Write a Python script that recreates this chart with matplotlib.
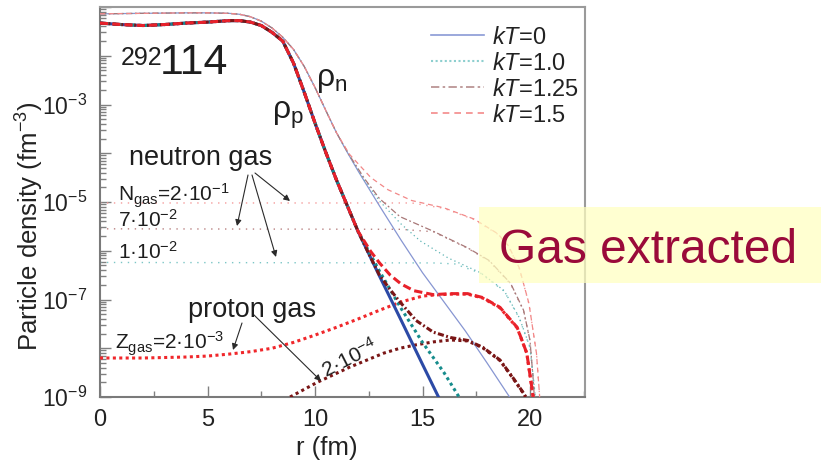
import matplotlib
matplotlib.use('Agg')
import matplotlib.pyplot as plt
import numpy as np
from matplotlib.lines import Line2D
from matplotlib.patches import Rectangle
from matplotlib.ticker import LogLocator, FuncFormatter, MultipleLocator, NullFormatter

plt.rcParams['font.family'] = ['Liberation Sans', 'DejaVu Sans']
plt.rcParams['mathtext.fontset'] = 'custom'
plt.rcParams['mathtext.rm'] = 'Liberation Sans'
plt.rcParams['mathtext.it'] = 'Liberation Sans:italic'
plt.rcParams['mathtext.bf'] = 'Liberation Sans:bold'

# ---------------- data: r (fm) and log10 density (fm^-3) -------------
# common high-density part (all temperatures coincide)
r_core_n = [0, 1, 2, 3, 4, 5, 6, 6.5, 7, 7.5, 8, 8.5, 9, 9.5, 10, 10.5, 11]
lg_core_n = [-1.14, -1.135, -1.13, -1.125, -1.12, -1.12, -1.13, -1.15, -1.20, -1.29,
             -1.43, -1.62, -1.87, -2.22, -2.65, -3.12, -3.58]
r_core_p = [0, 1, 2, 3, 4, 5, 6, 6.5, 7, 7.5, 8, 8.5, 9, 9.5, 10, 10.5, 11, 12]
lg_core_p = [-1.33, -1.36, -1.38, -1.36, -1.33, -1.31, -1.28, -1.28, -1.31, -1.38,
             -1.52, -1.70, -2.15, -2.75, -3.38, -3.98, -4.55, -5.60]

# neutron density tails
r_n0 = [11.5, 12, 12.5, 13, 14, 15, 16, 17, 18, 19.05]
lg_n0 = [-3.98, -4.36, -4.72, -5.08, -5.78, -6.45, -7.05, -7.65, -8.30, -9.0]
r_n10 = [11.6, 12.3, 13.0, 14.0, 14.9, 16.2, 17.7, 18.8, 19.5, 20.0, 20.2, 20.25]
lg_n10 = [-4.05, -4.55, -4.98, -5.45, -5.80, -6.15, -6.45, -6.82, -7.37, -7.98, -8.8, -9.0]
r_n125 = [11.6, 12.3, 13.0, 13.95, 15.5, 17.1, 18.1, 19.1, 19.7, 20.0, 20.15, 20.2]
lg_n125 = [-4.04, -4.52, -4.93, -5.30, -5.60, -5.94, -6.20, -6.67, -7.22, -7.84, -8.65, -9.0]
r_n15 = [11.6, 12.6, 13.4, 14.5, 16.0, 17.4, 18.5, 19.0, 19.5, 19.95, 20.3, 20.45]
lg_n15 = [-4.02, -4.50, -4.75, -4.97, -5.12, -5.35, -5.65, -5.90, -6.35, -7.08, -8.10, -9.0]

# proton density tails
r_p0 = [13, 14, 15, 15.8]
lg_p0 = [-6.52, -7.42, -8.33, -9.05]
r_p10 = [13, 14, 15, 16, 16.7]
lg_p10 = [-6.42, -7.18, -7.88, -8.50, -9.0]
r_p125 = [12.5, 13.0, 13.5, 13.95, 14.7, 15.5, 16.3, 17.1, 17.8, 18.6, 19.2, 19.7, 19.8]
lg_p125 = [-6.06, -6.50, -6.80, -7.05, -7.43, -7.67, -7.78, -7.84, -7.98, -8.24, -8.60, -8.92, -9.0]
r_p15 = [12.6, 13.0, 13.5, 14.0, 14.6, 15.5, 16.3, 17.1, 17.8, 18.6, 19.4, 19.85, 20.15]
lg_p15 = [-6.02, -6.25, -6.50, -6.68, -6.82, -6.90, -6.88, -6.88, -6.96, -7.16, -7.57, -8.10, -9.0]

# neutron gas (N_gas = 2e-1, 7e-2, 1e-2)
r_gn15 = [0, 14.5, 16.0, 17.4, 18.5, 19.0, 19.5, 19.95, 20.3, 20.45]
lg_gn15 = [-5.02, -5.02, -5.13, -5.36, -5.66, -5.91, -6.36, -7.09, -8.10, -9.0]
r_gn125 = [0, 14.0, 15.5, 17.1, 18.1, 19.1, 19.7, 20.0, 20.15, 20.2]
lg_gn125 = [-5.55, -5.56, -5.61, -5.95, -6.21, -6.68, -7.23, -7.85, -8.65, -9.0]
r_gn10 = [0, 15.5, 16.5, 17.7, 18.8, 19.5, 20.0, 20.2, 20.25]
lg_gn10 = [-6.24, -6.25, -6.27, -6.46, -6.83, -7.38, -7.99, -8.8, -9.0]

# proton gas (Z_gas = 2e-3, 2e-4)
r_gp15 = [0, 2, 4, 5, 6, 7, 8, 9, 10, 11, 12, 13, 14, 15, 15.5, 16.3, 17.1, 17.8, 18.6, 19.4, 19.85, 20.15]
lg_gp15 = [-8.20, -8.20, -8.18, -8.16, -8.12, -8.07, -8.00, -7.88, -7.73, -7.57, -7.40, -7.22,
           -7.05, -6.93, -6.91, -6.89, -6.89, -6.97, -7.17, -7.58, -8.10, -9.0]
r_gp125 = [8.84, 10.1, 11.6, 13.2, 13.95, 14.7, 15.5, 16.3, 17.1, 17.8, 18.6, 19.2, 19.7, 19.8]
lg_gp125 = [-9.0, -8.70, -8.39, -8.10, -8.00, -7.93, -7.87, -7.83, -7.85, -7.99, -8.25, -8.61, -8.93, -9.0]

legend_labels = ['$kT$=0', '$kT$=1.0', '$kT$=1.25', '$kT$=1.5']
xticks_major = [0, 5, 10, 15, 20]
ytick_label_exps = [-9, -7, -5, -3]

# ---------------- figure -------------
W, H = 821, 463
fig = plt.figure(figsize=(W / 100, H / 100), dpi=100)
ax = fig.add_axes([100 / W, 1 - 397 / H, 485 / W, 390 / H])


def dens(lg):
    return np.power(10.0, np.asarray(lg, dtype=float))


def curve(rc, lc, rt, lt):
    return list(rc) + list(rt), dens(list(lc) + list(lt))


# colours
c_n0, c_p0 = '#8796d2', '#2c4aa6'
c_n10, c_p10, c_gn10 = '#5fb4b4', '#168c8c', '#7cc6c6'
c_n125, c_p125, c_gn125 = '#a87878', '#7a1616', '#b88080'
c_n15, c_p15, c_gn15, c_gp15 = '#f28888', '#e8212a', '#f59a9a', '#f0272b'

thin, thick = 0.9, 2.2

# gas curves
ax.plot(r_gn15, dens(lg_gn15), color=c_gn15, lw=1.0, ls=(0, (1, 4)), zorder=2)
ax.plot(r_gn125, dens(lg_gn125), color=c_gn125, lw=1.0, ls=(0, (1, 4)), zorder=2)
ax.plot(r_gn10, dens(lg_gn10), color=c_gn10, lw=1.0, ls=(0, (1, 4)), zorder=2)
ax.plot(r_gp15, dens(lg_gp15), color=c_gp15, lw=2.2, ls=(0, (1, 1.1)), zorder=3)
ax.plot(r_gp125, dens(lg_gp125), color=c_p125, lw=2.2, ls=(0, (1, 1.1)), zorder=3)

# neutron densities (thin)
x, y = curve(r_core_n, lg_core_n, r_n0, lg_n0)
ax.plot(x, y, color=c_n0, lw=thin, ls='-', zorder=4)
x, y = curve(r_core_n, lg_core_n, r_n10, lg_n10)
ax.plot(x, y, color=c_n10, lw=thin, ls=(0, (1, 2.5)), zorder=4)
x, y = curve(r_core_n, lg_core_n, r_n125, lg_n125)
ax.plot(x, y, color=c_n125, lw=thin, ls=(0, (5, 2, 1.5, 2)), zorder=4)
x, y = curve(r_core_n, lg_core_n, r_n15, lg_n15)
ax.plot(x, y, color=c_n15, lw=thin, ls=(0, (4, 3)), zorder=4)

# proton densities (thick)
x, y = curve(r_core_p, lg_core_p, r_p0, lg_p0)
ax.plot(x, y, color=c_p0, lw=thick, ls='-', zorder=5)
x, y = curve(r_core_p, lg_core_p, r_p10, lg_p10)
ax.plot(x, y, color=c_p10, lw=thick, ls=(0, (1, 1.1)), zorder=5)
rc = [v for v in r_core_p if v < 12.5]
x, y = curve(rc, lg_core_p[:len(rc)], r_p125, lg_p125)
ax.plot(x, y, color=c_p125, lw=thick, ls=(0, (2, 0.8, 0.6, 0.8)), zorder=5)
x, y = curve(r_core_p, lg_core_p, r_p15, lg_p15)
ax.plot(x, y, color=c_p15, lw=thick, ls=(0, (2.7, 1.3)), zorder=6)

# axes styling
ax.set_yscale('log')
ax.set_xlim(0, 485 / 21.5)
ax.set_ylim(1e-9, 1e-1)
ax.xaxis.set_major_locator(plt.FixedLocator(xticks_major))
ax.xaxis.set_minor_locator(MultipleLocator(2.5))
ax.yaxis.set_major_locator(LogLocator(base=10, numticks=20))
ax.yaxis.set_minor_locator(LogLocator(base=10, subs=np.arange(2, 10), numticks=20))
ax.yaxis.set_minor_formatter(NullFormatter())


def yfmt(v, _):
    e = int(round(np.log10(v)))
    return '$10^{%d}$' % e if e in ytick_label_exps else ''


ax.yaxis.set_major_formatter(FuncFormatter(yfmt))
ax.tick_params(which='both', direction='in', color='#808080', width=1.0)
ax.tick_params(which='major', length=8)
ax.tick_params(which='minor', length=4)
ax.tick_params(axis='x', which='major', labelsize=17, pad=9, labelcolor='#222222')
ax.tick_params(axis='y', which='major', labelsize=16.5, pad=9, labelcolor='#222222')
for s in ['left', 'bottom']:
    ax.spines[s].set_color('#7a7a7a')
    ax.spines[s].set_linewidth(1.5)
for s in ['top', 'right']:
    ax.spines[s].set_color('#9a9a9a')
    ax.spines[s].set_linewidth(1.5)

ax.set_xlabel('r (fm)', fontsize=18.5, color='#222222')
ax.xaxis.set_label_coords((327 - 100) / 485, (397 - 436) / 390)
ax.set_ylabel('Particle density (fm$^{-3}$)', fontsize=18.5, color='#222222')
ax.yaxis.set_label_coords((46 - 100) / 485, (397 - 226) / 390)

# legend
handles = [Line2D([], [], color='#8a9ad6', lw=1.2, ls='-'),
           Line2D([], [], color='#8dcfcf', lw=1.5, ls=(0, (1, 1.2))),
           Line2D([], [], color='#b58c8c', lw=1.2, ls=(0, (5, 2, 1.5, 2))),
           Line2D([], [], color='#f38a8a', lw=1.2, ls=(0, (4, 3)))]
leg = ax.legend(handles, legend_labels, loc='upper left', bbox_to_anchor=(0.682, 0.95),
                frameon=False, fontsize=17, handlelength=2.25, handletextpad=0.35,
                labelspacing=0.17, borderpad=0, borderaxespad=0)
for t in leg.get_texts():
    t.set_color('#222222')


# ---------------- annotations (figure pixel positions) -------------
def P(xp, yp):
    return (xp / W, 1 - yp / H)


tc = '#1e1e1e'
fig.text(*P(121, 65), '292', fontsize=18, color=tc, va='baseline')
fig.text(*P(160, 74), '114', fontsize=31, color=tc, va='baseline')
fig.text(*P(316, 86), 'ρ$_\\mathrm{n}$', fontsize=23, color=tc, va='baseline')
fig.text(*P(272, 119), 'ρ$_\\mathrm{p}$', fontsize=23, color=tc, va='baseline')
fig.text(*P(129, 165), 'neutron gas', fontsize=19.5, color=tc, va='baseline')
fig.text(*P(118, 202), 'N$_\\mathrm{gas}$=2·10$^{\\mathrm{-1}}$', fontsize=15, color=tc, va='baseline')
fig.text(*P(118, 227), '7·10$^{\\mathrm{-2}}$', fontsize=15, color=tc, va='baseline')
fig.text(*P(118, 259), '1·10$^{\\mathrm{-2}}$', fontsize=15, color=tc, va='baseline')
fig.text(*P(188, 317), 'proton gas', fontsize=19.5, color=tc, va='baseline')
fig.text(*P(115, 350), 'Z$_\\mathrm{gas}$=2·10$^{\\mathrm{-3}}$', fontsize=15, color=tc, va='baseline')
fig.text(*P(326, 378), '2·10$^{\\mathrm{-4}}$', fontsize=15, color=tc, va='baseline',
         ha='left', rotation=27, rotation_mode='anchor')

ap = dict(arrowstyle='-|>', color='#2a2a2a', lw=0.8, mutation_scale=9, shrinkA=0, shrinkB=0)
arrows = [((255, 173), (290, 201)), ((248, 175), (237, 226)), ((252, 175), (276, 257)),
          ((242, 323), (233, 350)), ((253, 314), (321, 381))]
for (x0, y0), (x1, y1) in arrows:
    ax.annotate('', xy=P(x1, y1), xycoords='figure fraction',
                xytext=P(x0, y0), textcoords='figure fraction', arrowprops=ap, zorder=8)

# "Gas extracted" box
fig.patches.append(Rectangle(P(479, 283), (W - 479) / W, (283 - 207) / H,
                             transform=fig.transFigure, facecolor='#ffffc0', alpha=0.72,
                             edgecolor='none', zorder=10))
fig.text(*P(648, 263), 'Gas extracted', fontsize=34.5, color='#9a0a3a', ha='center',
         va='baseline', zorder=11)

fig.savefig('out.png', dpi=100)
